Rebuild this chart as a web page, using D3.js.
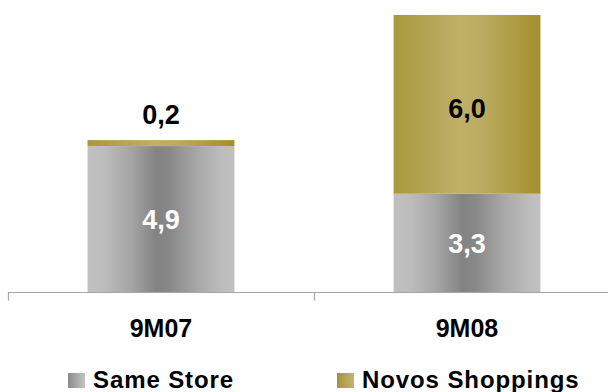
<!DOCTYPE html>
<html>
<head>
<meta charset="utf-8">
<script src="https://cdn.jsdelivr.net/npm/d3@7"></script>
<style>
  html, body { margin: 0; padding: 0; background: #fff; }
  svg { display: block; font-family: "Liberation Sans", Arial, sans-serif; }
</style>
</head>
<body>
<svg id="chart" width="608" height="392"></svg>
<script>
// Periods and stacked values (R$ million)
const categories = ["9M07", "9M08"];
const seriesNames = ["Same Store", "Novos Shoppings"];
const sameStore = [4.9, 3.3];
const novosShoppings = [0.2, 6.0];
const valueLabels = [["4,9", "3,3"], ["0,2", "6,0"]];

const svg = d3.select("#chart");
const W = 608, H = 392;
const baseY = 292;

const x = d3.scaleBand().domain(categories).range([8, 620]).paddingInner(0).paddingOuter(0);
const barW = x.bandwidth() * 0.48;
const y = d3.scaleLinear().domain([0, 9.3]).range([baseY, 15]);

// Gradients
const defs = svg.append("defs");
function grad(id, stops, x1 = "0%", x2 = "100%") {
  const g = defs.append("linearGradient").attr("id", id)
    .attr("x1", x1).attr("x2", x2).attr("y1", "0%").attr("y2", "0%");
  stops.forEach(([o, c]) => g.append("stop").attr("offset", o).attr("stop-color", c));
}
grad("gGray", [[0, "#c0c0c0"], [0.12, "#bcbcbc"], [0.3, "#a4a4a4"], [0.47, "#838383"], [0.55, "#878787"], [0.75, "#a8a8a8"], [0.92, "#bdbdbd"], [1, "#c0c0c0"]]);
grad("gGold", [[0, "#a8983e"], [0.2, "#b2a252"], [0.45, "#bfb068"], [0.6, "#bbab60"], [0.85, "#ab9a40"], [1, "#a48f2c"]]);
grad("gGrayKey", [[0, "#8a8a8a"], [0.5, "#a8a8a8"], [1, "#c4c4c4"]]);
grad("gGoldKey", [[0, "#a6923a"], [0.5, "#b5a55a"], [1, "#c2b26e"]]);

const fills = ["url(#gGray)", "url(#gGold)"];
const keyFills = ["url(#gGrayKey)", "url(#gGoldKey)"];

// Stack the two series
const rows = categories.map((c, i) => ({ cat: c, s0: sameStore[i], s1: novosShoppings[i] }));
const stack = d3.stack().keys(["s0", "s1"])(rows);

stack.forEach((layer, li) => {
  svg.append("g").selectAll("rect").data(layer).join("rect")
    .attr("x", d => x(d.data.cat) + (x.bandwidth() - barW) / 2)
    .attr("width", barW)
    .attr("y", d => y(d[1]))
    .attr("height", d => y(d[0]) - y(d[1]))
    .attr("fill", fills[li]);
});

// Axis: baseline with ticks at the category boundaries
const axis = svg.append("g").attr("transform", `translate(0,${baseY + 0.5})`);
axis.append("line").attr("x1", 8).attr("x2", W).attr("y1", 0).attr("y2", 0)
  .attr("stroke", "#a6a6a6").attr("stroke-width", 1.2);
const bounds = categories.map(c => x(c)).concat([x.range()[1]]);
axis.selectAll("line.tick").data(bounds).join("line").attr("class", "tick")
  .attr("x1", d => Math.round(d) + 0.5).attr("x2", d => Math.round(d) + 0.5)
  .attr("y1", 0).attr("y2", 8)
  .attr("stroke", "#a6a6a6").attr("stroke-width", 1.2);

// Category labels
svg.append("g").selectAll("text").data(categories).join("text")
  .attr("x", d => x(d) + x.bandwidth() / 2)
  .attr("y", 337)
  .attr("text-anchor", "middle")
  .attr("font-size", 25).attr("font-weight", "bold").attr("fill", "#000")
  .text(d => d);

// Value labels
const fs = 27;
rows.forEach((r, i) => {
  const cx = x(r.cat) + x.bandwidth() / 2;
  // Same Store: white, centred in its segment
  const s0 = stack[0][i];
  svg.append("text").attr("x", cx)
    .attr("y", (y(s0[0]) + y(s0[1])) / 2 + fs * 0.36)
    .attr("text-anchor", "middle").attr("font-size", fs).attr("font-weight", "bold")
    .attr("fill", "#fff").text(valueLabels[0][i]);
  // Novos Shoppings: black, inside when tall, above the bar when thin
  const s1 = stack[1][i];
  const h = y(s1[0]) - y(s1[1]);
  const ty = h > 40 ? (y(s1[0]) + y(s1[1])) / 2 + fs * 0.36 + 4 : y(s1[1]) - 16;
  svg.append("text").attr("x", cx).attr("y", ty)
    .attr("text-anchor", "middle").attr("font-size", fs).attr("font-weight", "bold")
    .attr("fill", "#000").text(valueLabels[1][i]);
});

// Legend
const legendX = [68, 337];
const lg = svg.append("g");
seriesNames.forEach((n, i) => {
  lg.append("rect").attr("x", legendX[i]).attr("y", 373).attr("width", 17).attr("height", 15)
    .attr("fill", keyFills[i]);
  lg.append("text").attr("x", legendX[i] + 25).attr("y", 388)
    .attr("font-size", 24).attr("font-weight", "bold").attr("fill", "#000")
    .attr("letter-spacing", 0.9)
    .text(n);
});
</script>
</body>
</html>
